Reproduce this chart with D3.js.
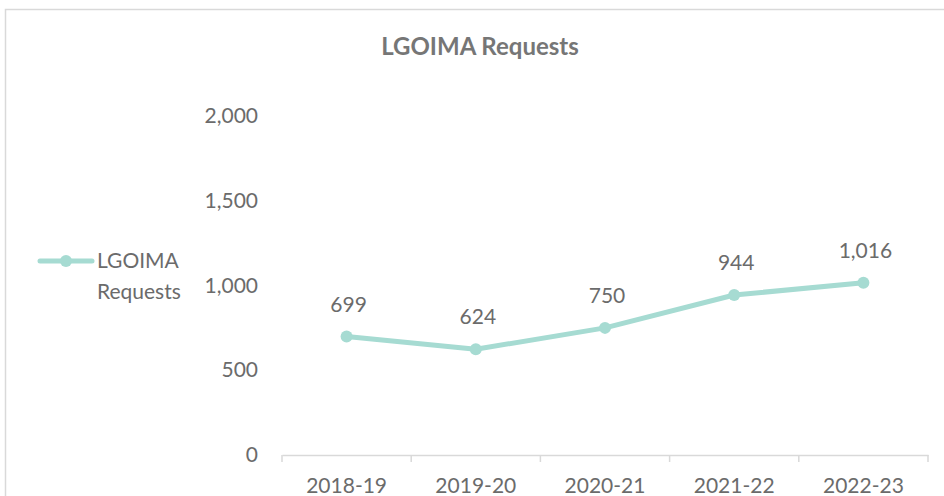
<!DOCTYPE html>
<html>
<head>
<meta charset="utf-8">
<script src="https://cdn.jsdelivr.net/npm/d3@7"></script>
<style>
  body { margin: 0; background: #fff; }
  svg { display: block; font-family: "Lato", sans-serif; }
</style>
</head>
<body>
<svg></svg>
<script>
// Data
const years = ["2018-19", "2019-20", "2020-21", "2021-22", "2022-23"];
const requests = [699, 624, 750, 944, 1016];
const yTicks = [0, 500, 1000, 1500, 2000];

const width = 944, height = 496;
const lineColor = "#a6dbd2";
const textColor = "#6b6b6b";
const titleColor = "#767676";

const svg = d3.select("svg")
    .attr("width", width)
    .attr("height", height);

// chart border (runs off the page at right/bottom)
svg.append("rect")
    .attr("x", 5.5).attr("y", 9.5)
    .attr("width", 1000).attr("height", 600)
    .attr("fill", "#fff")
    .attr("stroke", "#d9d9d9")
    .attr("stroke-width", 1.5);

// Scales
const x = d3.scaleBand().domain(years).range([282, 928]);
const y = d3.scaleLinear().domain([0, 2000]).range([455, 116]);

// Title
svg.append("text")
    .attr("x", 480).attr("y", 55)
    .attr("text-anchor", "middle")
    .attr("fill", titleColor)
    .attr("font-size", 24)
    .attr("font-weight", "bold")
    .text("LGOIMA Requests");

// Y axis (labels only)
const yAxis = svg.append("g")
    .attr("transform", "translate(258,0)")
    .call(d3.axisLeft(y).tickValues(yTicks).tickSize(0).tickPadding(0).tickFormat(d3.format(",")));
yAxis.select(".domain").remove();
yAxis.selectAll("text")
    .attr("fill", textColor)
    .attr("font-size", 21)
    .attr("font-family", "Lato, sans-serif");

// X axis
const xAxis = svg.append("g")
    .attr("transform", `translate(0,${y(0)})`)
    .call(d3.axisBottom(x).tickSize(0).tickPadding(23));
xAxis.select(".domain").attr("stroke", "#d9d9d9").attr("stroke-width", 1.5);
xAxis.selectAll("text")
    .attr("fill", textColor)
    .attr("font-size", 21)
    .attr("font-family", "Lato, sans-serif");
// tick marks at band edges
const edges = years.map(d => x(d)).concat([x(years[years.length - 1]) + x.bandwidth()]);
svg.append("g").selectAll("line")
    .data(edges)
    .join("line")
    .attr("x1", d => d).attr("x2", d => d)
    .attr("y1", y(0)).attr("y2", y(0) + 7)
    .attr("stroke", "#d9d9d9")
    .attr("stroke-width", 1.5);

// Line
const cx = d => x(d) + x.bandwidth() / 2;
const line = d3.line()
    .x((d, i) => cx(years[i]))
    .y(d => y(d));

svg.append("path")
    .datum(requests)
    .attr("d", line)
    .attr("fill", "none")
    .attr("stroke", lineColor)
    .attr("stroke-width", 5)
    .attr("stroke-linejoin", "round");

svg.append("g").selectAll("circle")
    .data(requests)
    .join("circle")
    .attr("cx", (d, i) => cx(years[i]))
    .attr("cy", d => y(d))
    .attr("r", 6)
    .attr("fill", lineColor);

// Data labels
svg.append("g").selectAll("text")
    .data(requests)
    .join("text")
    .attr("x", (d, i) => cx(years[i]) + 2)
    .attr("y", d => y(d) - 25)
    .attr("text-anchor", "middle")
    .attr("fill", textColor)
    .attr("font-size", 21)
    .text(d => d3.format(",")(d));

// Legend
const lg = svg.append("g");
lg.append("line")
    .attr("x1", 40).attr("x2", 92)
    .attr("y1", 261).attr("y2", 261)
    .attr("stroke", lineColor)
    .attr("stroke-width", 5)
    .attr("stroke-linecap", "round");
lg.append("circle")
    .attr("cx", 66).attr("cy", 261).attr("r", 6)
    .attr("fill", lineColor);
lg.append("text")
    .attr("x", 97).attr("y", 268)
    .attr("fill", textColor)
    .attr("font-size", 21)
    .text("LGOIMA");
lg.append("text")
    .attr("x", 97).attr("y", 299)
    .attr("fill", textColor)
    .attr("font-size", 21)
    .text("Requests");
</script>
</body>
</html>
